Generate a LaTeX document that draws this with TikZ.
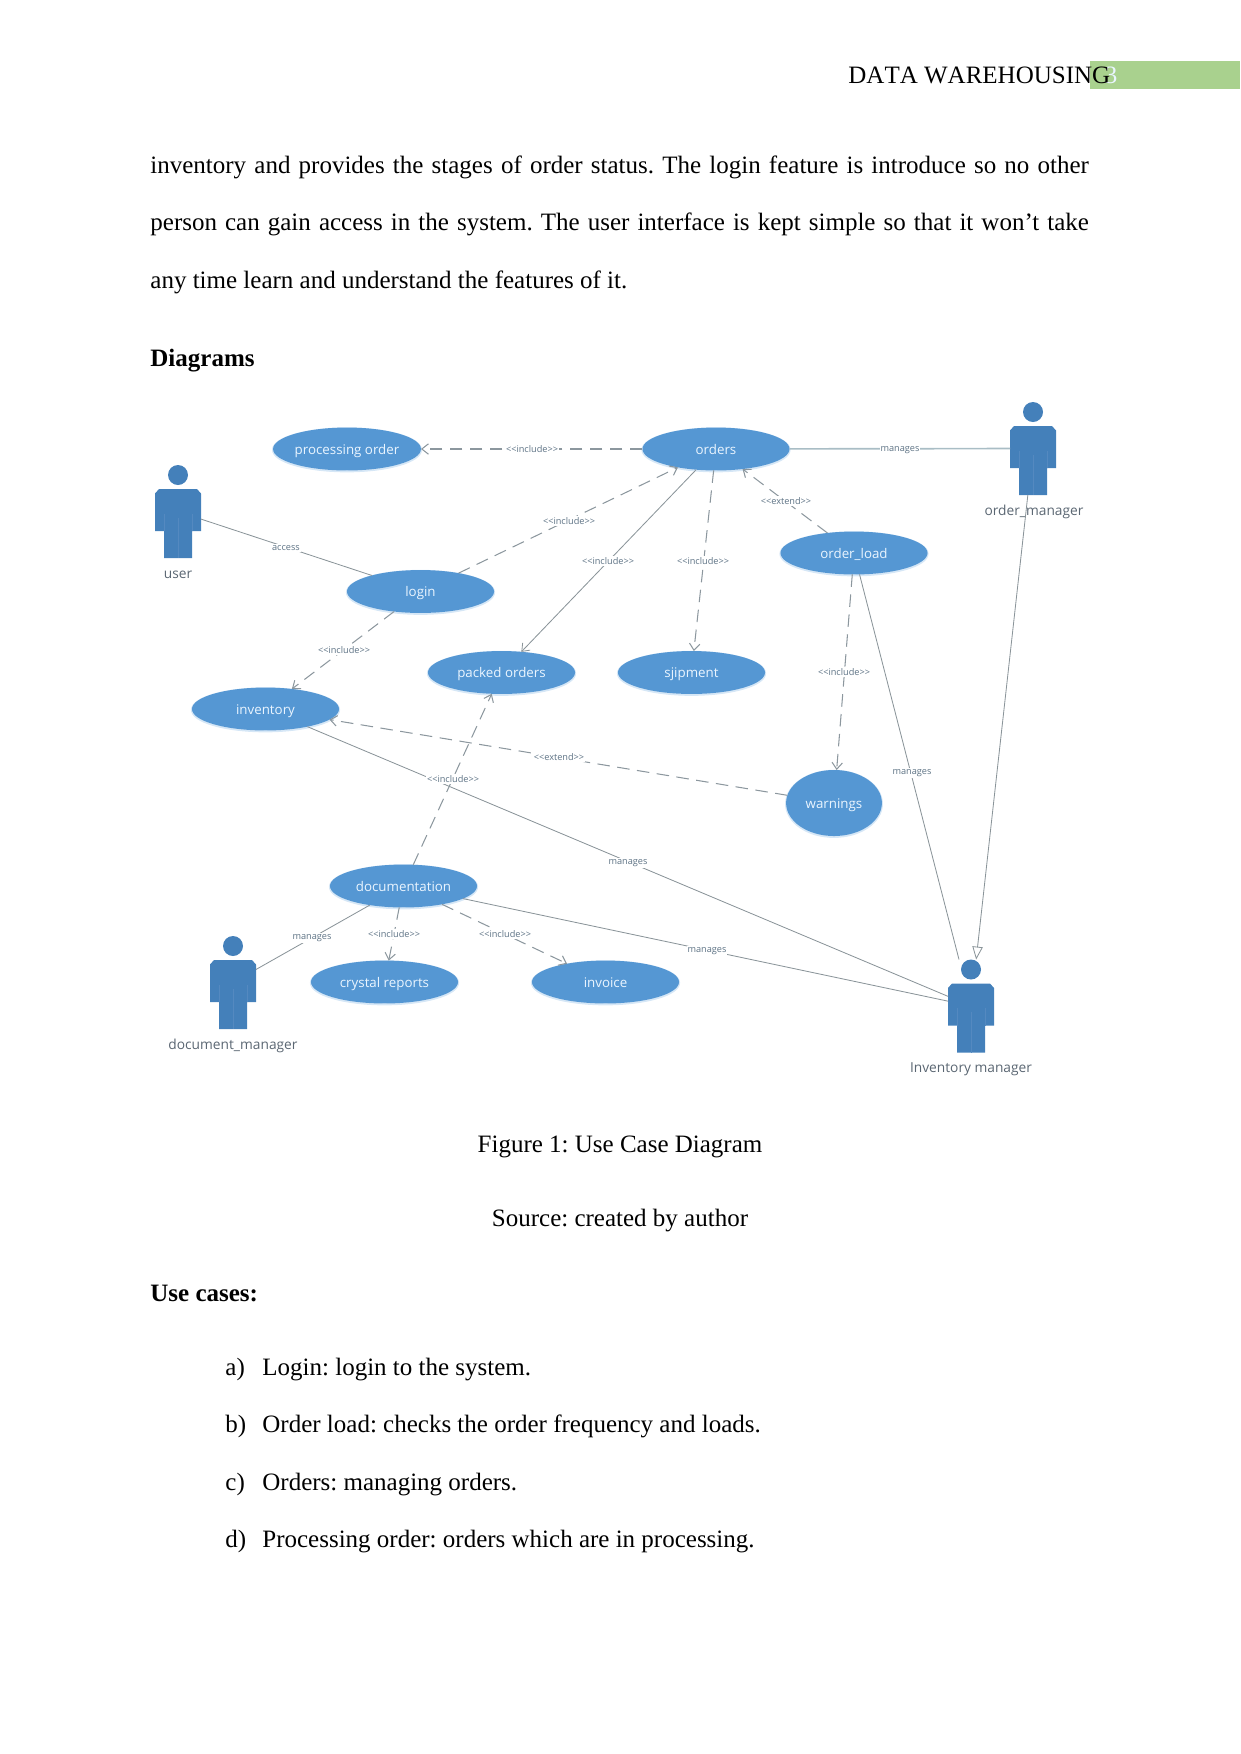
\documentclass[tikz,border=0pt]{standalone}
\usepackage{fontspec}
\setmainfont{Liberation Serif}
\newfontfamily\uifont{Open Sans}
\usetikzlibrary{shapes.geometric,arrows.meta}
\definecolor{uc}{HTML}{5597D3}
\definecolor{ucglow}{HTML}{D6E7F6}
\definecolor{actorc}{HTML}{4480BA}
\definecolor{actorl}{HTML}{5489C0}
\definecolor{conn}{HTML}{8C979E}
\definecolor{assoc}{HTML}{8A9499}
\definecolor{assocl}{HTML}{A9BDC5}
\definecolor{lab}{HTML}{5E7385}
\definecolor{actext}{HTML}{5A6672}
\definecolor{ucwhite}{HTML}{EAF5FF}
\definecolor{band}{HTML}{A9D18E}
\tikzset{
  usecase/.style={ellipse,fill=uc,inner sep=0pt,outer sep=0pt,minimum width=70.6pt,minimum height=20.6pt,
    text=ucwhite,text height=6.5pt,text depth=1.5pt,font=\uifont\fontsize{6.4}{8}\selectfont,
    preaction={draw=ucglow,line width=1pt,transform canvas={yshift=-.4pt}}},
  bigcase/.style={usecase,minimum width=46pt,minimum height=31.7pt},
  actorbox/.style={rectangle,inner sep=0pt,outer sep=0pt,minimum width=22pt,minimum height=44.6pt},
  actorname/.style={text=actext,inner sep=0pt,font=\uifont\fontsize{6.6}{8}\selectfont},
  conlabel/.style={fill=white,inner sep=.5pt,text=lab,font=\uifont\fontsize{4.4}{5}\selectfont},
  dep/.style={draw=conn,line width=.5pt,dash pattern=on 6pt off 3.6pt,-{Straight Barb[length=3.2pt,width=5pt]}},
  assoc/.style={draw=assoc,line width=.4pt},
  assocopen/.style={draw=assoc,line width=.4pt,-{Straight Barb[length=3.2pt,width=5pt]}},
  assocwide/.style={draw=assocl,line width=.8pt},
  assochollow/.style={draw=assoc,line width=.4pt,-{Triangle[open,fill=white,length=6.2pt,width=5pt]}},
  bodytext/.style={anchor=base west,inner sep=0pt,font=\fontsize{12}{14}\selectfont},
  centertext/.style={anchor=base,inner sep=0pt,font=\fontsize{12}{14}\selectfont},
  headtext/.style={anchor=base west,inner sep=0pt,font=\bfseries\fontsize{12}{14}\selectfont},
}
\newcommand{\stereo}[1]{<{}<#1>{}>}
\newcommand{\actorfig}[5]{% name, x, y, label, label x
  \node[actorbox] (#1) at (#2,#3) {};
  \begin{scope}[shift={(#2,#3)}]
    \fill[actorc] (0,-36.5) circle (10);
    \fill[actorc] (-19,-22.5) -- (19,-22.5) -- (23,-18) -- (23,19.5) -- (14,19.5) -- (14,46.5)
      -- (-14,46.5) -- (-14,19.5) -- (-23,19.5) -- (-23,-18) -- cycle;
    \draw[actorl,line width=.25pt] (0,6) -- (0,46.5) (-14,2) -- (-14,19.5) (14,2) -- (14,19.5);
  \end{scope}
  \node[actorname] (#1-name) at (#5,#3+63) {#4};
}
\begin{document}
\frenchspacing
\begin{tikzpicture}[x=0.48pt,y=-0.48pt]
\useasboundingbox (0,0) rectangle (1241,1754);
% page header
\fill[band] (1090,61) rectangle (1240,89);
\node[bodytext,text=ucwhite] (pagenum) at (1104.5,83) {3};
\node[bodytext] (header) at (848,83) {\addfontfeature{Kerning=Off}DATA WAREHOUSING};
% body text
\node[bodytext] (l1) at (150,173) {\makebox[450.5pt][s]{inventory and provides the stages of order status. The login feature is introduce so no other}};
\node[bodytext] (l2) at (150,230) {\makebox[450.5pt][s]{person can gain access in the system. The user interface is kept simple so that it won’t take}};
\node[bodytext] (l3) at (150,288) {any time learn and understand the features of it.};
\node[headtext] (diagrams) at (150,366) {Diagrams};
% use cases
\node[usecase] (processing) at (347,449) {processing order};
\node[usecase] (orders) at (716,449) {orders};
\node[usecase] (orderload) at (854,553) {order\_load};
\node[usecase] (login) at (420.5,591.5) {login};
\node[usecase] (packed) at (501.5,672.5) {packed orders};
\node[usecase] (sjipment) at (691.5,672.5) {sjipment};
\node[usecase] (inventory) at (265.5,709) {inventory};
\node[bigcase] (warnings) at (834,803) {warnings};
\node[usecase] (documentation) at (403.5,886) {documentation};
\node[usecase] (crystal) at (384.5,982) {crystal reports};
\node[usecase] (invoice) at (605.5,982) {invoice};
% actors
\actorfig{user}{178}{511.5}{user}{178}
\actorfig{ordermanager}{1033}{448.5}{order\_manager}{1034}
\actorfig{documentmanager}{233}{982.5}{document\_manager}{233}
\actorfig{inventorymanager}{971}{1006}{Inventory manager}{971}
% connectors
\draw[dep] (orders) -- (processing);
\draw[assocwide] (orders) -- (ordermanager);
\draw[dep] (login) -- (orders);
\draw[assocopen] (orders) -- (packed);
\draw[dep] (orders) -- (sjipment);
\draw[dep] (orderload) -- (orders);
\draw[dep] (orderload) -- (warnings);
\draw[assoc] (orderload) -- (inventorymanager);
\draw[assochollow] (ordermanager) -- (inventorymanager);
\draw[assoc] (user) -- (login);
\draw[dep] (login) -- (inventory);
\draw[assoc] (inventory) -- (inventorymanager);
\draw[dep] (warnings) -- (inventory);
\draw[dep] (documentation) -- (packed);
\draw[assoc] (documentation) -- (inventorymanager);
\draw[assoc] (documentmanager) -- (documentation);
\draw[dep] (documentation) -- (crystal);
\draw[dep] (documentation) -- (invoice);
% connector labels
\node[conlabel] (t1) at (532,449) {\stereo{include}};
\node[conlabel] (t2) at (900,450) {manages};
\node[conlabel] (t3) at (569,521) {\stereo{include}};
\node[conlabel] (t4) at (608,561) {\stereo{include}};
\node[conlabel] (t5) at (703,561) {\stereo{include}};
\node[conlabel] (t6) at (786,501) {\stereo{extend}};
\node[conlabel] (t7) at (844,672) {\stereo{include}};
\node[conlabel] (t8) at (912,773) {manages};
\node[conlabel] (t9) at (286,548) {access};
\node[conlabel] (t10) at (344,650) {\stereo{include}};
\node[conlabel] (t11) at (628,863) {manages};
\node[conlabel] (t12) at (559,757) {\stereo{extend}};
\node[conlabel] (t13) at (453,779) {\stereo{include}};
\node[conlabel] (t14) at (707,951) {manages};
\node[conlabel] (t15) at (312,938) {manages};
\node[conlabel] (t16) at (394,934) {\stereo{include}};
\node[conlabel] (t17) at (505,934) {\stereo{include}};
% captions and list
\node[centertext] (fig) at (620,1152) {Figure 1: Use Case Diagram};
\node[centertext] (src) at (620,1226) {Source: created by author};
\node[headtext] (uc) at (150,1301) {Use cases:};
\node[bodytext] (a) at (225,1375) {a)};
\node[bodytext] (at) at (262,1375) {Login: login to the system.};
\node[bodytext] (b) at (225,1432) {b)};
\node[bodytext] (bt) at (262,1432) {Order load: checks the order frequency and loads.};
\node[bodytext] (c) at (225,1490) {c)};
\node[bodytext] (ct) at (262,1490) {Orders: managing orders.};
\node[bodytext] (d) at (225,1547) {d)};
\node[bodytext] (dt) at (262,1547) {Processing order: orders which are in processing.};
\end{tikzpicture}
\end{document}
